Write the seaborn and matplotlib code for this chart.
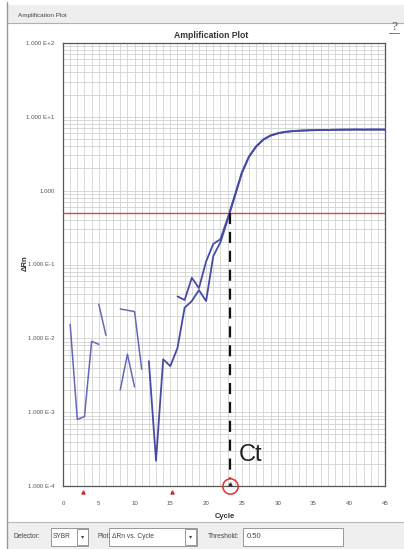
import numpy as np
import pandas as pd
import matplotlib
matplotlib.use("Agg")
import matplotlib.pyplot as plt
import seaborn as sns
from matplotlib.ticker import FixedLocator, LogLocator, NullFormatter, MultipleLocator
from matplotlib.patches import Rectangle
from matplotlib.lines import Line2D

# ---------------- data ----------------
# each trace segment: start cycle + consecutive ΔRn values (gaps = values <= 0, not drawn)
seg1_start, seg1_vals = 1, [0.0155, 0.0008, 0.00087, 0.0091, 0.0083]
seg2_start, seg2_vals = 5, [0.029, 0.011]
seg3_start, seg3_vals = 8, [0.025, 0.024, 0.023, 0.0038]
seg4_start, seg4_vals = 8, [0.002, 0.0061, 0.0022]
wellA_start = 16
wellA_vals = [0.037, 0.033, 0.066, 0.048, 0.11, 0.19, 0.22, 0.42, 0.86, 1.78,
              2.92, 4.0, 4.95, 5.6, 6.0, 6.25, 6.4, 6.5, 6.55, 6.6,
              6.62, 6.65, 6.68, 6.7, 6.7, 6.75, 6.7, 6.7, 6.7, 6.7]
wellB_start = 12
wellB_vals = [0.0049, 0.00022, 0.0052, 0.0042, 0.0074, 0.026, 0.032, 0.045, 0.032, 0.13,
              0.2, 0.40, 0.83, 1.72, 2.88, 3.95, 4.9, 5.55, 5.95, 6.22,
              6.38, 6.48, 6.55, 6.6, 6.62, 6.65, 6.68, 6.7, 6.72, 6.7,
              6.72, 6.75, 6.75, 6.72]

threshold = 0.50
ct_cycle = 23.3
baseline_marks = [2.8, 15.3]

xticks = [0, 5, 10, 15, 20, 25, 30, 35, 40, 45]
ytick_vals = [1e-4, 1e-3, 1e-2, 1e-1, 1, 10, 100]
ytick_labels = ['1.000 E-4', '1.000 E-3', '1.000 E-2', '1.000 E-1', '1.000', '1.000 E+1', '1.000 E+2']

segments = [("s1", seg1_start, seg1_vals), ("s2", seg2_start, seg2_vals),
            ("s3", seg3_start, seg3_vals), ("s4", seg4_start, seg4_vals),
            ("A", wellA_start, wellA_vals), ("B", wellB_start, wellB_vals)]
rows = []
for name, start, vals in segments:
    for i, v in enumerate(vals):
        rows.append((name, start + i, v))
df = pd.DataFrame(rows, columns=["seg", "cycle", "drn"])

# ---------------- figure ----------------
sns.set_style("white")
plt.rcParams['font.family'] = ['Liberation Sans', 'DejaVu Sans']

W, H = 404, 549
fig = plt.figure(figsize=(W / 100, H / 100), dpi=100)
fig.patch.set_facecolor("white")

def fx(px):
    return px / W

def fy(py):
    return 1 - py / H

# window chrome
fig.add_artist(Rectangle((fx(8), fy(23)), fx(396), 18 / H, transform=fig.transFigure,
                         facecolor="#eeeeee", edgecolor="none"))
fig.add_artist(Line2D([fx(8), fx(404)], [fy(23), fy(23)], transform=fig.transFigure,
                      color="#b0b0b0", lw=0.8))
fig.add_artist(Line2D([fx(7), fx(7)], [fy(2), fy(549)], transform=fig.transFigure,
                      color="#999999", lw=1.0))
fig.text(fx(18), fy(15), "Amplification Plot", fontsize=4.6, color="#444444", va="center", ha="left")
fig.text(fx(394), fy(27), "?", fontsize=8, color="#555555", va="center", ha="center",
         family="DejaVu Serif")
fig.add_artist(Line2D([fx(389), fx(399)], [fy(33), fy(33)], transform=fig.transFigure,
                      color="#777777", lw=0.7))

# bottom control bar
fig.add_artist(Rectangle((fx(8), 0), fx(396), 27 / H, transform=fig.transFigure,
                         facecolor="#efefef", edgecolor="none"))
fig.add_artist(Line2D([fx(8), fx(404)], [fy(522), fy(522)], transform=fig.transFigure,
                      color="#b8b8b8", lw=0.8))
def box(x0, x1, y0=528, y1=546):
    fig.add_artist(Rectangle((fx(x0), fy(y1)), fx(x1 - x0), (y1 - y0) / H,
                             transform=fig.transFigure, facecolor="white",
                             edgecolor="#888888", lw=0.6))
box(51, 88)
box(77, 88, 529, 545)
box(109, 197)
box(185, 196, 529, 545)
box(243, 343)
ctrl_y = fy(537)
fig.text(fx(13), ctrl_y, "Detector:", fontsize=4.8, color="#444444", va="center")
fig.text(fx(53), ctrl_y, "SYBR", fontsize=4.8, color="#444444", va="center")
fig.text(fx(82.5), ctrl_y, "▾", fontsize=4.5, color="#444444", va="center", ha="center", family="DejaVu Sans")
fig.text(fx(97), ctrl_y, "Plot:", fontsize=4.8, color="#444444", va="center")
fig.text(fx(112), ctrl_y, "ΔRn vs. Cycle", fontsize=4.8, color="#444444", va="center")
fig.text(fx(190.5), ctrl_y, "▾", fontsize=4.5, color="#444444", va="center", ha="center", family="DejaVu Sans")
fig.text(fx(208), ctrl_y, "Threshold:", fontsize=4.8, color="#444444", va="center")
fig.text(fx(247), ctrl_y, "0.50", fontsize=5.5, color="#444444", va="center")

# axes
ax = fig.add_axes([fx(63), fy(486), fx(322), 443 / H])
ax.set_facecolor("white")
ax.set_yscale("log")
ax.set_xlim(0, 45)
ax.set_ylim(1e-4, 1e2)

ax.xaxis.set_major_locator(FixedLocator(xticks))
ax.xaxis.set_minor_locator(MultipleLocator(1))
ax.yaxis.set_major_locator(FixedLocator(ytick_vals))
ax.yaxis.set_minor_locator(LogLocator(base=10, subs=np.arange(2, 10), numticks=100))
ax.yaxis.set_minor_formatter(NullFormatter())
ax.set_yticklabels(ytick_labels)
ax.set_xticklabels([str(v) for v in xticks])
ax.grid(which="both", axis="both", color="#d2d2d2", lw=0.6)
ax.set_axisbelow(True)
ax.tick_params(axis="y", which="major", length=4, width=0.6, color="#777777",
               labelsize=4.4, labelcolor="#555555", pad=2)
ax.tick_params(axis="x", which="major", length=0, labelsize=4.4, labelcolor="#555555", pad=11)
ax.tick_params(which="minor", length=0)
for s in ax.spines.values():
    s.set_color("#555555")
    s.set_linewidth(0.9)

noise = df[df.seg.isin(["s1", "s2", "s3", "s4"])]
wells = df[df.seg.isin(["A", "B"])]
sns.lineplot(data=noise, x="cycle", y="drn", units="seg", estimator=None,
             color="#6569b8", lw=1.1, ax=ax, legend=False)
sns.lineplot(data=wells, x="cycle", y="drn", units="seg", estimator=None,
             color="#474ba3", lw=1.3, ax=ax, legend=False)

ax.axhline(threshold, color="#d24a4a", lw=1.0, zorder=3)
ax.plot([ct_cycle, ct_cycle], [threshold, 1.25e-4], color="#111111", lw=1.6,
        dashes=(5, 3.5), zorder=4)
ax.plot([ct_cycle], [1e-4], marker="o", ms=11, mfc="none", mec="#e03030", mew=1.1,
        clip_on=False, zorder=6)
ax.plot([ct_cycle], [1.05e-4], marker="^", ms=2.2, color="#333333", clip_on=False, zorder=6)
ax.text(ct_cycle + 1.3, 2.6e-4, "Ct", fontsize=17, color="#222222", va="center", ha="left")
for bm in baseline_marks:
    ax.plot([bm], [0.84e-4], marker="^", ms=2.3, color="#d03030", clip_on=False, zorder=6)

ax.set_xlabel("")
ax.set_ylabel("")
fig.text(fx(225), fy(517), "Cycle", fontsize=5.5, fontweight="bold", color="#333333",
         ha="center", va="center")
fig.text(fx(25), fy(263), "ΔRn", fontsize=5.5, fontweight="bold", color="#333333",
         ha="center", va="center", rotation=90)
fig.text(fx(211), fy(36), "Amplification Plot", fontsize=6.2, fontweight="bold",
         color="#333333", ha="center", va="center")

fig.savefig("out.png", dpi=100)
